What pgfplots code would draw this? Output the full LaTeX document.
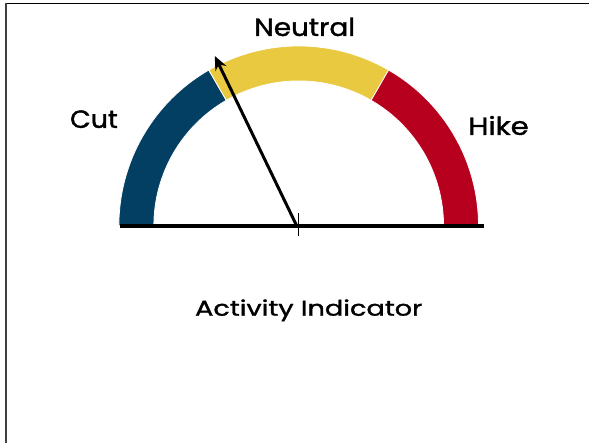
\documentclass[border=0pt]{standalone}
\usepackage{fontspec}
\setmainfont{Poppins}
\newfontfamily\lab{Poppins}[FakeBold=1.3]
\usepackage{pgfplots}
\pgfplotsset{compat=1.18}
\usetikzlibrary{arrows.meta}
\definecolor{gblue}{HTML}{023F62}
\definecolor{gyellow}{HTML}{E8C940}
\definecolor{gred}{HTML}{B6001E}
\begin{document}
\begin{tikzpicture}
\begin{axis}[
  scale only axis, width=590bp, height=443bp,
  xmin=-299, xmax=291, ymin=-217, ymax=226,
  hide axis, clip=false, enlargelimits=false]
\path (rel axis cs:0,0) rectangle (rel axis cs:1,1);
% frame
\addplot[draw=black, line width=1.2bp, mark=none] coordinates {(-294,222.5) (291,222.5)};
\addplot[draw=black!75, line width=2bp, mark=none] coordinates {(-293,223) (-293,-217)};
% gauge segments (180-120, 120-60, 60-0 degrees)
\fill[gblue, draw=white, line width=0.8bp] (axis cs:0,0) ++(180:180bp) arc[start angle=180,end angle=120,radius=180bp] -- ++(120:-35bp) arc[start angle=120,end angle=180,radius=145bp] -- cycle;
\fill[gyellow, draw=white, line width=0.8bp] (axis cs:0,0) ++(120:180bp) arc[start angle=120,end angle=60,radius=180bp] -- ++(60:-35bp) arc[start angle=60,end angle=120,radius=145bp] -- cycle;
\fill[gred, draw=white, line width=0.8bp] (axis cs:0,0) ++(60:180bp) arc[start angle=60,end angle=0,radius=180bp] -- ++(0:-35bp) arc[start angle=0,end angle=60,radius=145bp] -- cycle;
% baseline
\addplot[black, line width=4bp, mark=none] coordinates {(-179,0) (185,0)};
% centre tick
\addplot[black, line width=0.8bp, mark=none] coordinates {(0,13) (0,-10)};
% needle
\addplot[black, line width=3bp, mark=none, -{Stealth[length=14bp,width=12bp]}] coordinates {(-2,0) (-84,170)};
% labels
\node[anchor=base, xscale=1.12, font=\lab\fontsize{25}{27}\selectfont] at (axis cs:6,190) {Neutral};
\node[anchor=base, xscale=1.08, font=\lab\fontsize{25}{27}\selectfont] at (axis cs:-205,98) {Cut};
\node[anchor=base, xscale=1.17, font=\lab\fontsize{25}{27}\selectfont] at (axis cs:200,91) {Hike};
\node[anchor=base, xscale=1.27, font=\lab\fontsize{21.5}{23}\selectfont] at (axis cs:10,-90) {Activity Indicator};
\end{axis}
\end{tikzpicture}
\end{document}
